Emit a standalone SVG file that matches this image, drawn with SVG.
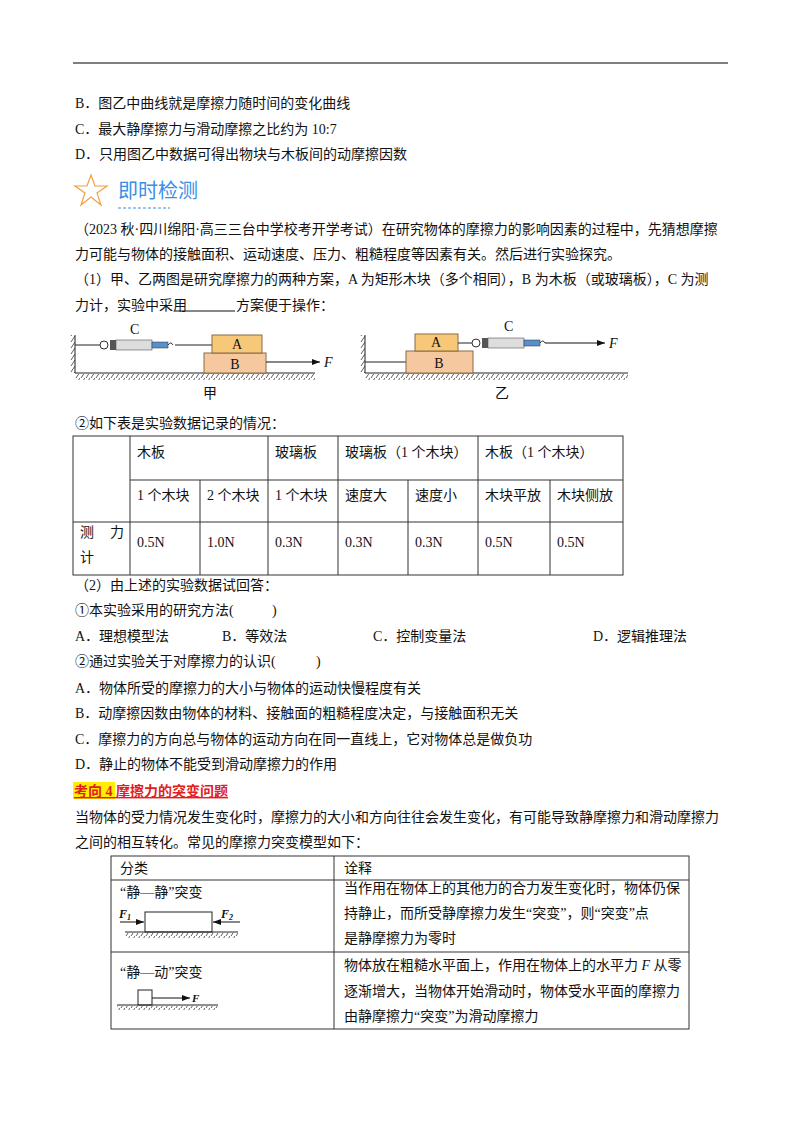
<svg xmlns="http://www.w3.org/2000/svg" width="800" height="1132" viewBox="0 0 800 1132">
<defs>
<style>
text{font-family:"Liberation Serif","Noto Sans CJK SC",serif;font-size:14px;fill:#111}
.ln{stroke:#222;stroke-width:1;fill:none}
.tb{stroke:#333;stroke-width:1;fill:none}
.blk{stroke:#8a6a40;stroke-width:1}
</style>
<pattern id="hatch" width="5" height="6" patternUnits="userSpaceOnUse"><line x1="5" y1="0" x2="1" y2="6" stroke="#333" stroke-width="0.8"/></pattern>
<marker id="ar" markerWidth="8" markerHeight="6" refX="8" refY="3" orient="auto"><path d="M0,0L8,3L0,6z" fill="#111"/></marker>
<g id="spring"><rect x="-4" y="-4" width="8" height="8" rx="4" fill="#fff" stroke="#333"/><rect x="6" y="-5" width="6" height="10" fill="#555"/><rect x="12" y="-5" width="36" height="10" fill="#ddd" stroke="#555" stroke-width="0.6"/><rect x="48" y="-3" width="16" height="6" fill="#5a8fc8" stroke="#234" stroke-width="0.5"/><path d="M64,0 q3,-4 5,0" stroke="#333" fill="none"/></g>
</defs>
<rect width="800" height="1132" fill="#fff"/>
<line x1="73" y1="63" x2="728" y2="63" stroke="#000" stroke-width="1.2"/>
<text x="75" y="108">B．图乙中曲线就是摩擦力随时间的变化曲线</text>
<text x="75" y="134">C．最大静摩擦力与滑动摩擦之比约为 10:7</text>
<text x="75" y="159">D．只用图乙中数据可得出物块与木板间的动摩擦因数</text>
<g id="title">
<polygon points="91,175 95,186 107,186 97,193 101,205 91,197 81,205 85,193 75,186 87,186" fill="none" stroke="#f0a040" stroke-width="1.2"/>
<text x="118" y="198" style="font-size:20px;fill:#3a8ee6;font-family:'Noto Sans CJK SC',sans-serif">即时检测</text>
<line x1="118" y1="208" x2="170" y2="208" stroke="#3a8ee6" stroke-dasharray="3,2"/>
</g>
<text x="75" y="234">（2023 秋·四川绵阳·高三三台中学校考开学考试）在研究物体的摩擦力的影响因素的过程中，先猜想摩擦</text>
<text x="75" y="259">力可能与物体的接触面积、运动速度、压力、粗糙程度等因素有关。然后进行实验探究。</text>
<text x="75" y="284">（1）甲、乙两图是研究摩擦力的两种方案，A 为矩形木块（多个相同），B 为木板（或玻璃板），C 为测</text>
<text x="75" y="310">力计，实验中采用</text>
<line x1="175" y1="311" x2="235" y2="311" stroke="#111"/>
<text x="236" y="310">方案便于操作：</text>
<g id="fig-jia">
<rect x="75" y="374" width="240" height="6" fill="url(#hatch)"/>
<line class="ln" x1="75" y1="373" x2="315" y2="373"/>
<rect x="70" y="335" width="5" height="38" fill="url(#hatch)"/>
<line class="ln" x1="75" y1="335" x2="75" y2="373"/>
<line class="ln" x1="75" y1="345" x2="100" y2="345"/>
<use href="#spring" x="104" y="345"/>
<line class="ln" x1="175" y1="345" x2="212" y2="345"/>
<rect x="204" y="353" width="62" height="20" fill="#f5c8a0" class="blk"/>
<rect x="212" y="335" width="50" height="18" fill="#f7c878" class="blk"/>
<text x="237" y="349" text-anchor="middle">A</text>
<text x="235" y="369" text-anchor="middle">B</text>
<line x1="266" y1="362" x2="320" y2="362" stroke="#111" marker-end="url(#ar)"/>
<text x="324" y="367" font-style="italic">F</text>
<text x="130" y="334">C</text>
<text x="210" y="398" text-anchor="middle">甲</text>
</g>
<g id="fig-yi">
<rect x="365" y="374" width="263" height="6" fill="url(#hatch)"/>
<line class="ln" x1="365" y1="373" x2="628" y2="373"/>
<rect x="360" y="335" width="5" height="38" fill="url(#hatch)"/>
<line class="ln" x1="365" y1="335" x2="365" y2="373"/>
<line class="ln" x1="365" y1="362" x2="406" y2="362"/>
<rect x="406" y="351" width="67" height="22" fill="#f5c8a0" class="blk"/>
<rect x="415" y="334" width="43" height="17" fill="#f7c878" class="blk"/>
<text x="436" y="347" text-anchor="middle">A</text>
<text x="439" y="368" text-anchor="middle">B</text>
<line class="ln" x1="458" y1="343" x2="472" y2="343"/>
<use href="#spring" x="476" y="343"/>
<line x1="545" y1="343" x2="605" y2="343" stroke="#111" marker-end="url(#ar)"/>
<text x="609" y="348" font-style="italic">F</text>
<text x="504" y="331">C</text>
<text x="502" y="398" text-anchor="middle">乙</text>
</g>
<text x="75" y="428">②如下表是实验数据记录的情况：</text>
<g id="table1">
<rect class="tb" x="73" y="436" width="550" height="139"/>
<line class="tb" x1="130" y1="436" x2="130" y2="575"/>
<line class="tb" x1="130" y1="480" x2="623" y2="480"/>
<line class="tb" x1="73" y1="522" x2="623" y2="522"/>
<line class="tb" x1="200" y1="480" x2="200" y2="575"/>
<line class="tb" x1="268" y1="436" x2="268" y2="575"/>
<line class="tb" x1="338" y1="436" x2="338" y2="575"/>
<line class="tb" x1="408" y1="480" x2="408" y2="575"/>
<line class="tb" x1="478" y1="436" x2="478" y2="575"/>
<line class="tb" x1="550" y1="480" x2="550" y2="575"/>
<text x="137" y="457">木板</text><text x="275" y="457">玻璃板</text><text x="345" y="457">玻璃板（1 个木块）</text><text x="485" y="457">木板（1 个木块）</text>
<text x="137" y="500">1 个木块</text><text x="207" y="500">2 个木块</text><text x="275" y="500">1 个木块</text><text x="345" y="500">速度大</text><text x="415" y="500">速度小</text><text x="485" y="500">木块平放</text><text x="557" y="500">木块侧放</text>
<text x="80" y="537">测</text><text x="110" y="537">力</text><text x="80" y="562">计</text>
<text x="137" y="547">0.5N</text><text x="207" y="547">1.0N</text><text x="275" y="547">0.3N</text><text x="345" y="547">0.3N</text><text x="415" y="547">0.3N</text><text x="485" y="547">0.5N</text><text x="557" y="547">0.5N</text>
</g>
<text x="75" y="590">（2）由上述的实验数据试回答：</text>
<text x="75" y="615">①本实验采用的研究方法(</text><text x="272" y="615">)</text>
<text x="75" y="641">A．理想模型法</text><text x="222" y="641">B．等效法</text><text x="373" y="641">C．控制变量法</text><text x="593" y="641">D．逻辑推理法</text>
<text x="75" y="666">②通过实验关于对摩擦力的认识(</text><text x="316" y="666">)</text>
<text x="75" y="693">A．物体所受的摩擦力的大小与物体的运动快慢程度有关</text>
<text x="75" y="718">B．动摩擦因数由物体的材料、接触面的粗糙程度决定，与接触面积无关</text>
<text x="75" y="744">C．摩擦力的方向总与物体的运动方向在同一直线上，它对物体总是做负功</text>
<text x="75" y="769">D．静止的物体不能受到滑动摩擦力的作用</text>
<rect x="73" y="782" width="42" height="17" fill="#ffee00"/>
<text x="74" y="796" style="fill:#e02020;font-weight:bold" text-decoration="underline">考向 4 摩擦力的突变问题</text>
<text x="75" y="822">当物体的受力情况发生变化时，摩擦力的大小和方向往往会发生变化，有可能导致静摩擦力和滑动摩擦力</text>
<text x="75" y="847">之间的相互转化。常见的摩擦力突变模型如下：</text>
<g id="table2">
<rect class="tb" x="111" y="856" width="578" height="173"/>
<line class="tb" x1="334" y1="856" x2="334" y2="1029"/>
<line class="tb" x1="111" y1="880" x2="689" y2="880"/>
<line class="tb" x1="111" y1="952" x2="689" y2="952"/>
<text x="120" y="873">分类</text><text x="344" y="873">诠释</text>
<text x="120" y="897">“静—静”突变</text>
<rect x="125" y="933" width="113" height="5" fill="url(#hatch)"/>
<line class="ln" x1="125" y1="932" x2="238" y2="932"/>
<rect class="ln" x="145" y="912" width="67" height="20" fill="#fff"/>
<line x1="120" y1="922" x2="144" y2="922" stroke="#111" marker-end="url(#ar)"/>
<line x1="240" y1="922" x2="213" y2="922" stroke="#111" marker-end="url(#ar)"/>
<text x="119" y="918" style="font-size:12px;font-weight:bold;font-style:italic">F<tspan style="font-size:8px" dy="2">1</tspan></text>
<text x="221" y="918" style="font-size:12px;font-weight:bold;font-style:italic">F<tspan style="font-size:8px" dy="2">2</tspan></text>
<text x="120" y="977">“静—动”突变</text>
<rect x="117" y="1006" width="101" height="4" fill="url(#hatch)"/>
<line class="ln" x1="117" y1="1005" x2="218" y2="1005"/>
<rect class="ln" x="138" y="990" width="14" height="15" fill="#fff"/>
<line x1="152" y1="998" x2="190" y2="998" stroke="#111" marker-end="url(#ar)"/>
<text x="192" y="1002" style="font-size:11px;font-weight:bold;font-style:italic">F</text>
<text x="344" y="893">当作用在物体上的其他力的合力发生变化时，物体仍保</text>
<text x="344" y="918">持静止，而所受静摩擦力发生“突变”，则“突变”点</text>
<text x="344" y="943">是静摩擦力为零时</text>
<text x="344" y="970">物体放在粗糙水平面上，作用在物体上的水平力 <tspan font-style="italic">F</tspan> 从零</text>
<text x="344" y="996">逐渐增大，当物体开始滑动时，物体受水平面的摩擦力</text>
<text x="344" y="1021">由静摩擦力“突变”为滑动摩擦力</text>
</g>
</svg>
